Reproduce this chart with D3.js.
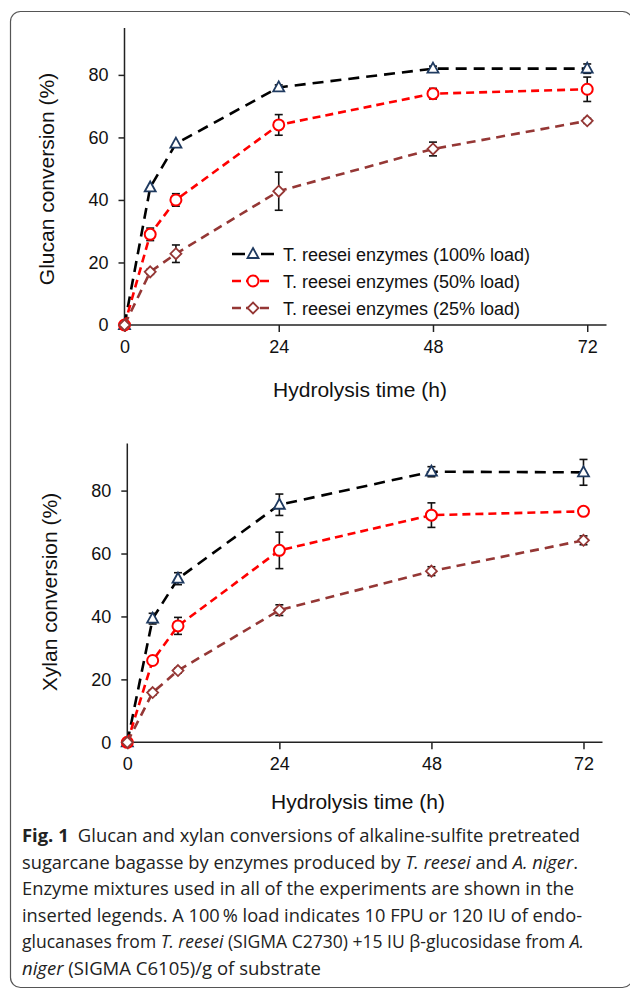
<!DOCTYPE html>
<html>
  <head>
    <meta charset="utf-8">
    <script src="https://d3js.org/d3.v7.min.js"></script>
    <style>
      body { margin: 0; background: #fff; }
      text { font-family: "Liberation Sans", Arial, sans-serif; fill: #111; }
      .caption text { font-family: "Open Sans", "Noto Sans", sans-serif; fill: #222; }
    </style>
  </head>
  <body>
    <svg id="fig" width="630" height="989"></svg>
    <script>
      // sampling times (h)
      const hours = [0, 4, 8, 24, 48, 72];
      const xTicks = [0, 24, 48, 72];
      const yTicks = [0, 20, 40, 60, 80];

      // glucan conversion (%), top panel
      const glucan100 = [0, 44, 58, 76, 82, 82];
      const glucan100Err = [0, 0, 0, 0.8, 0.8, 1.5];
      const glucan50 = [0, 29, 40, 64, 74, 75.4];
      const glucan50Err = [0, 2, 2, 3.3, 1.7, 3.9];
      const glucan25 = [0, 17, 22.8, 42.8, 56.3, 65.3];
      const glucan25Err = [0, 0.8, 2.8, 6.1, 2.2, 0.8];

      // xylan conversion (%), bottom panel
      const xylan100 = [0, 39.3, 52, 75.5, 86, 85.8];
      const xylan100Err = [0, 1.7, 1.9, 3.4, 1.6, 4.1];
      const xylan50 = [0, 26, 37, 61, 72.2, 73.4];
      const xylan50Err = [0, 0, 2.7, 5.8, 3.9, 0.6];
      const xylan25 = [0, 15.8, 22.8, 42, 54.4, 64.2];
      const xylan25Err = [0, 0.8, 0.8, 1.7, 1.4, 1.4];

      const legendLabels = [
        "T. reesei enzymes  (100% load)",
        "T. reesei enzymes (50% load)",
        "T. reesei enzymes (25% load)"
      ];

      const styles = [
        { line: "#000", dash: "11,7", marker: "triangle", mcol: "#1f3a60" },
        { line: "#ff0000", dash: "8,5", marker: "circle", mcol: "#ff0000" },
        { line: "#953735", dash: "9,6", marker: "diamond", mcol: "#953735" }
      ];

      const svg = d3.select("#fig");

      // rounded frame around figure
      svg.append("rect")
        .attr("x", 10.5).attr("y", 11.5)
        .attr("width", 622).attr("height", 976)
        .attr("rx", 10)
        .attr("fill", "none")
        .attr("stroke", "#555")
        .attr("stroke-width", 1.2);

      function drawMarker(g, type, color) {
        if (type === "circle") {
          g.append("circle").attr("r", 5.5)
            .attr("fill", "#fff").attr("stroke", color).attr("stroke-width", 2);
        } else if (type === "triangle") {
          g.append("path").attr("d", "M0,-6L5.5,4L-5.5,4Z")
            .attr("fill", "#fff").attr("stroke", color).attr("stroke-width", 1.8);
        } else {
          g.append("path").attr("d", "M0,-5.5L5.5,0L0,5.5L-5.5,0Z")
            .attr("fill", "#fff").attr("stroke", color).attr("stroke-width", 1.8);
        }
      }

      function panel(opt) {
        const x = d3.scaleLinear().domain([0, 75]).range([opt.x0, opt.x1]);
        const y = d3.scaleLinear().domain([0, 95]).range([opt.y0, opt.y1]);
        const g = svg.append("g");

        // axes
        g.append("g")
          .attr("transform", "translate(0," + opt.y0 + ")")
          .call(d3.axisBottom(x).tickValues(xTicks).tickSize(7).tickPadding(8))
          .call(a => a.selectAll("text").attr("font-size", 18).attr("fill", "#111"))
          .call(a => a.selectAll("line, path").attr("stroke", "#222").attr("stroke-width", 1.5));
        g.append("g")
          .attr("transform", "translate(" + opt.x0 + ",0)")
          .call(d3.axisLeft(y).tickValues(yTicks).tickSize(6).tickPadding(10))
          .call(a => a.selectAll("text").attr("font-size", 18).attr("fill", "#111"))
          .call(a => a.selectAll("line, path").attr("stroke", "#222").attr("stroke-width", 1.5));
        g.selectAll(".domain").attr("d", null);
        g.append("line")
          .attr("x1", opt.x0).attr("x2", opt.x1)
          .attr("y1", opt.y0).attr("y2", opt.y0)
          .attr("stroke", "#222").attr("stroke-width", 1.5);
        g.append("line")
          .attr("x1", opt.x0).attr("x2", opt.x0)
          .attr("y1", opt.y0).attr("y2", opt.y1)
          .attr("stroke", "#222").attr("stroke-width", 1.5);

        // axis titles
        g.append("text")
          .attr("x", opt.xTitleX).attr("y", opt.xTitleY)
          .attr("text-anchor", "middle").attr("font-size", 21)
          .text("Hydrolysis time (h)");
        g.append("text")
          .attr("transform", "translate(" + opt.yTitleX + "," + opt.yTitleY + ") rotate(-90)")
          .attr("text-anchor", "middle").attr("font-size", 21)
          .text(opt.yTitle);

        const line = d3.line().x((d, i) => x(hours[i])).y(d => y(d));

        opt.series.forEach((s, k) => {
          const st = styles[k];
          g.append("path").datum(s.values)
            .attr("d", line)
            .attr("fill", "none")
            .attr("stroke", st.line)
            .attr("stroke-width", 2.6)
            .attr("stroke-dasharray", st.dash);

          // error bars
          s.values.forEach((v, i) => {
            const e = s.err[i];
            if (!e) return;
            const cx = x(hours[i]);
            const eb = g.append("g").attr("stroke", "#111").attr("stroke-width", 1.6);
            eb.append("line").attr("x1", cx).attr("x2", cx).attr("y1", y(v - e)).attr("y2", y(v + e));
            eb.append("line").attr("x1", cx - 4).attr("x2", cx + 4).attr("y1", y(v - e)).attr("y2", y(v - e));
            eb.append("line").attr("x1", cx - 4).attr("x2", cx + 4).attr("y1", y(v + e)).attr("y2", y(v + e));
          });

          s.values.forEach((v, i) => {
            const mg = g.append("g").attr("transform", "translate(" + x(hours[i]) + "," + y(v) + ")");
            drawMarker(mg, st.marker, st.mcol);
          });
        });

        if (opt.legend) {
          const lg = g.append("g");
          legendLabels.forEach((lab, k) => {
            const st = styles[k];
            const ly = opt.legend.y + k * 27;
            lg.append("line")
              .attr("x1", opt.legend.x).attr("x2", opt.legend.x + 42)
              .attr("y1", ly).attr("y2", ly)
              .attr("stroke", st.line).attr("stroke-width", 2.6)
              .attr("stroke-dasharray", k === 0 ? "13,16" : "9,5");
            const mg = lg.append("g").attr("transform", "translate(" + (opt.legend.x + 21) + "," + ly + ")");
            drawMarker(mg, st.marker, st.mcol);
            lg.append("text")
              .attr("x", opt.legend.x + 51).attr("y", ly + 6.5)
              .attr("font-size", 18)
              .text(lab);
          });
        }
      }

      panel({
        x0: 124.5, x1: 606.5, y0: 325, y1: 28,
        xTitleX: 360, xTitleY: 397, yTitleX: 54, yTitleY: 179,
        yTitle: "Glucan conversion (%)",
        series: [
          { values: glucan100, err: glucan100Err },
          { values: glucan50, err: glucan50Err },
          { values: glucan25, err: glucan25Err }
        ],
        legend: { x: 232, y: 254 }
      });

      panel({
        x0: 127.3, x1: 602.5, y0: 742.3, y1: 443.4,
        xTitleX: 358, xTitleY: 809, yTitleX: 57, yTitleY: 592,
        yTitle: "Xylan conversion  (%)",
        series: [
          { values: xylan100, err: xylan100Err },
          { values: xylan50, err: xylan50Err },
          { values: xylan25, err: xylan25Err }
        ]
      });

      // caption
      const captionLines = [
        [["b", "Fig. 1"], ["n", "\u2002Glucan and xylan conversions of alkaline-sulfite pretreated"]],
        [["n", "sugarcane bagasse by enzymes produced by "], ["i", "T. reesei"], ["n", " and "], ["i", "A. niger"], ["n", "."]],
        [["n", "Enzyme mixtures used in all of the experiments are shown in the"]],
        [["n", "inserted legends. A 100\u2009% load indicates 10 FPU or 120 IU of endo-"]],
        [["n", "glucanases from "], ["i", "T. reesei"], ["n", " (SIGMA C2730) +15 IU \u03b2-glucosidase from "], ["i", "A."]],
        [["i", "niger"], ["n", " (SIGMA C6105)/g of substrate"]]
      ];
      const captionWidths = [558, 556, 552, 560, 562, 299];

      const cap = svg.append("g").attr("class", "caption");
      captionLines.forEach((parts, i) => {
        const t = cap.append("text")
          .attr("x", 22).attr("y", 842 + i * 26.5)
          .attr("font-size", 17.5)
          .attr("textLength", captionWidths[i])
          .attr("lengthAdjust", "spacingAndGlyphs");
        parts.forEach(p => {
          t.append("tspan")
            .attr("font-weight", p[0] === "b" ? "bold" : null)
            .attr("font-style", p[0] === "i" ? "italic" : null)
            .text(p[1]);
        });
      });
    </script>
  </body>
</html>
